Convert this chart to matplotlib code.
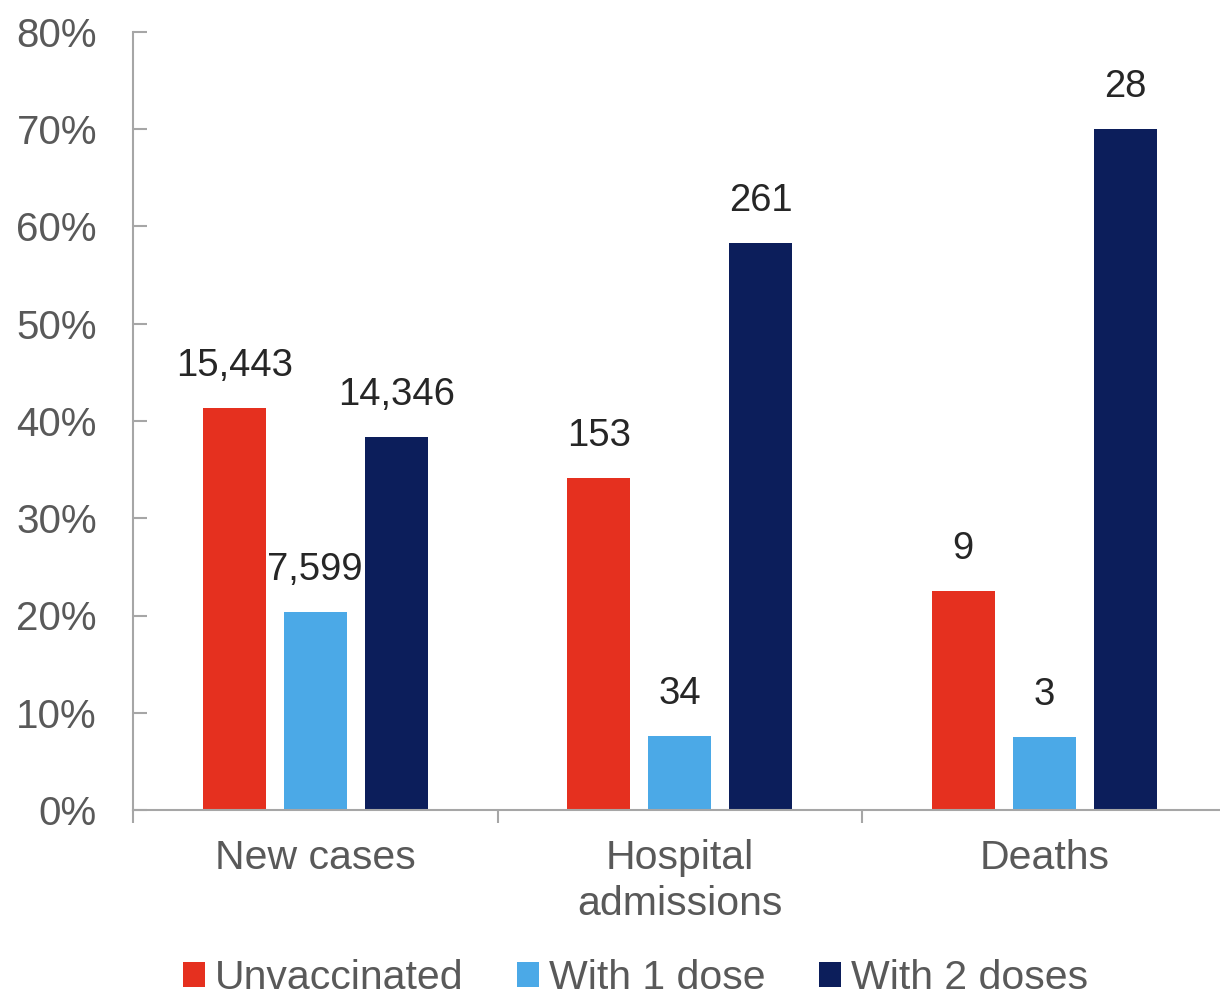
import matplotlib
matplotlib.use("Agg")
import matplotlib.pyplot as plt
import numpy as np
from matplotlib.patches import Patch

categories = ["New cases", "Hospital\nadmissions", "Deaths"]
series_names = ["Unvaccinated", "With 1 dose", "With 2 doses"]
counts = {
    "Unvaccinated": [15443, 153, 9],
    "With 1 dose": [7599, 34, 3],
    "With 2 doses": [14346, 261, 28],
}
colors = ["#E5301F", "#4BA9E7", "#0C1E5B"]
y_ticks = [0, 10, 20, 30, 40, 50, 60, 70, 80]
y_tick_labels = [f"{v}%" for v in y_ticks]

counts_arr = np.array([counts[s] for s in series_names], dtype=float)
shares = counts_arr / counts_arr.sum(axis=0) * 100

plt.rcParams['font.family'] = ['Liberation Sans', 'DejaVu Sans']

fig = plt.figure(figsize=(12.2, 10.02), dpi=100)
ax = fig.add_axes([133 / 1220, 192 / 1002, 1093.5 / 1220, 778 / 1002])

x = np.arange(len(categories))
offset = 0.222
width = 0.173
label_color = "#262626"
tick_color = "#595959"
spine_color = "#A6A6A6"

for i, name in enumerate(series_names):
    xs = x + (i - 1) * offset
    ax.bar(xs, shares[i], width=width, color=colors[i], label=name, zorder=2)
    for xi, h, c in zip(xs, shares[i], counts_arr[i]):
        ax.annotate(f"{int(c):,}", (xi, h), xytext=(0, 23), textcoords="offset points",
                    ha="center", va="baseline", fontsize=27.5, color=label_color)

ax.set_xlim(-0.5, 2.5)
ax.set_ylim(0, 80)
ax.set_yticks(y_ticks)
ax.set_yticklabels(y_tick_labels)
ax.set_xticks(x)
ax.set_xticklabels(categories, linespacing=1.25)
ax.set_xticks(np.arange(-0.5, 3.0, 1.0), minor=True)

ax.tick_params(axis='y', direction='in', length=10, width=1.5, color=spine_color,
               labelsize=29, labelcolor=tick_color, pad=26)
ax.tick_params(axis='x', which='major', length=0, labelsize=29.5, labelcolor=tick_color, pad=21)
ax.tick_params(axis='x', which='minor', direction='out', length=9.5, width=1.5, color=spine_color)

for s in ['top', 'right']:
    ax.spines[s].set_visible(False)
for s in ['left', 'bottom']:
    ax.spines[s].set_color(spine_color)
    ax.spines[s].set_linewidth(1.5)

handles = [Patch(facecolor=c, label=n) for c, n in zip(colors, series_names)]
fig.legend(handles=handles, loc='center', bbox_to_anchor=(0.521, 0.024), ncol=3,
           frameon=False, fontsize=29.5, handlelength=0.54, handleheight=0.54,
           handletextpad=0.25, columnspacing=1.3, labelcolor=tick_color,
           borderpad=0.0)

fig.savefig("out.png", dpi=100, facecolor="white")
